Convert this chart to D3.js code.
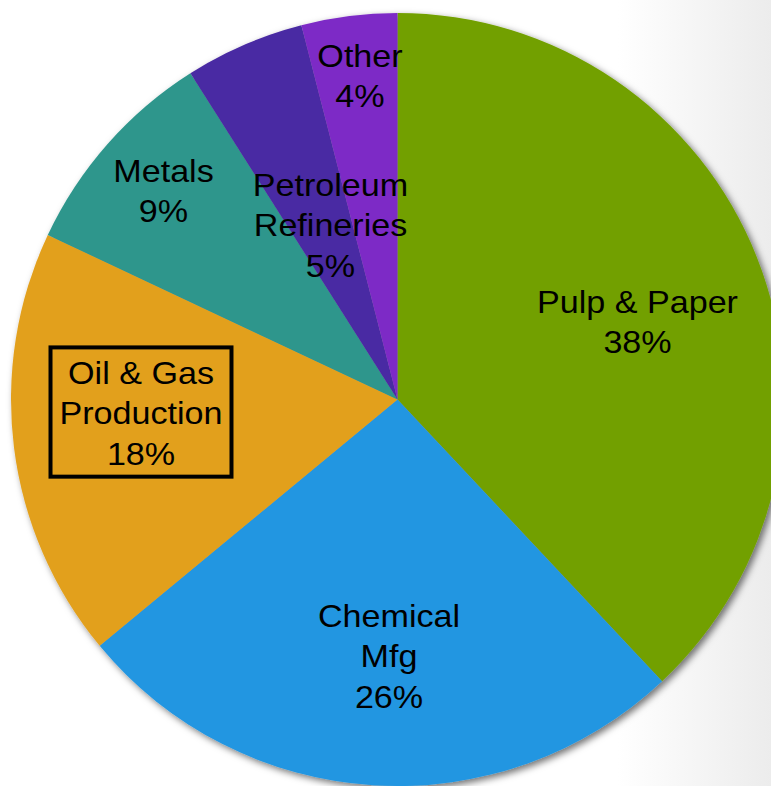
<!DOCTYPE html>
<html>
<head>
<meta charset="utf-8">
<script src="https://cdn.jsdelivr.net/npm/d3@7/dist/d3.min.js"></script>
<style>
  html, body { margin: 0; padding: 0; background: #ffffff; }
  svg { display: block; }
  text { font-family: "Liberation Sans", Arial, sans-serif; fill: #000; }
</style>
</head>
<body>
<svg id="chart" width="771" height="786"></svg>
<script>
// Industry shares (percent), clockwise from 12 o'clock
const categories = ["Pulp & Paper", "Chemical Mfg", "Oil & Gas Production", "Metals", "Petroleum Refineries", "Other"];
const values = [38, 26, 18, 9, 5, 4];
const labelLines = [
  ["Pulp & Paper"],
  ["Chemical", "Mfg"],
  ["Oil & Gas", "Production"],
  ["Metals"],
  ["Petroleum", "Refineries"],
  ["Other"]
];
const colors = ["#72a005", "#2396e1", "#e2a01f", "#2d968c", "#4a2aa3", "#7d2cc6"];

// Label anchors relative to pie centre (first-line baseline)
const labelOffsets = [
  [240, -86.5],
  [-8.5, 227.5],
  [-256.5, -15.5],
  [-234, -217.5],
  [-67, -203.5],
  [-37.5, -332.5]
];
const boxed = "Oil & Gas Production";

const W = 771, H = 786;
const cx = 397.5, cy = 399.5, R = 386.5;
const fontSize = 31, lineGap = 40.5, stretch = 1.1;

const svg = d3.select("#chart");
const defs = svg.append("defs");

const bg = defs.append("linearGradient").attr("id", "bg").attr("x1", 0).attr("x2", 1).attr("y1", 0).attr("y2", 0);
bg.append("stop").attr("offset", "0.8").attr("stop-color", "#ffffff");
bg.append("stop").attr("offset", "1").attr("stop-color", "#ececec");

const shadow = defs.append("filter").attr("id", "shadow")
  .attr("x", "-10%").attr("y", "-10%").attr("width", "120%").attr("height", "120%");
shadow.append("feDropShadow").attr("dx", 3).attr("dy", 3)
  .attr("stdDeviation", 3.5).attr("flood-color", "#000").attr("flood-opacity", 0.55);

svg.append("rect").attr("width", W).attr("height", H).attr("fill", "url(#bg)");

const pie = d3.pie().sort(null).value(d => d)(values);
const arc = d3.arc().innerRadius(0).outerRadius(R);

const g = svg.append("g").attr("transform", `translate(${cx},${cy})`);
g.append("g").attr("filter", "url(#shadow)")
  .selectAll("path").data(pie).join("path")
  .attr("d", arc)
  .attr("fill", (d, i) => colors[i]);

// Labels
pie.forEach((d, i) => {
  const lines = labelLines[i].concat([d3.format("d")(d.data) + "%"]);
  const [ox, oy] = labelOffsets[i];
  const lg = g.append("g").attr("transform", `translate(${ox},${oy}) scale(${stretch},1)`);
  const t = lg.append("text")
    .attr("text-anchor", "middle")
    .style("font-size", fontSize + "px");
  lines.forEach((s, k) => {
    t.append("tspan").attr("x", 0).attr("y", k * lineGap).text(s);
  });
  if (categories[i] === boxed) {
    const bb = t.node().getBBox();
    const padX = 9, padTop = 9, padBot = 5;
    g.insert("rect", null)
      .attr("x", ox + bb.x * stretch - padX)
      .attr("y", oy + bb.y - padTop)
      .attr("width", bb.width * stretch + 2 * padX)
      .attr("height", bb.height + padTop + padBot)
      .attr("fill", "none")
      .attr("stroke", "#000")
      .attr("stroke-width", 4);
    g.node().appendChild(g.select("rect").node());
  }
});
</script>
</body>
</html>
